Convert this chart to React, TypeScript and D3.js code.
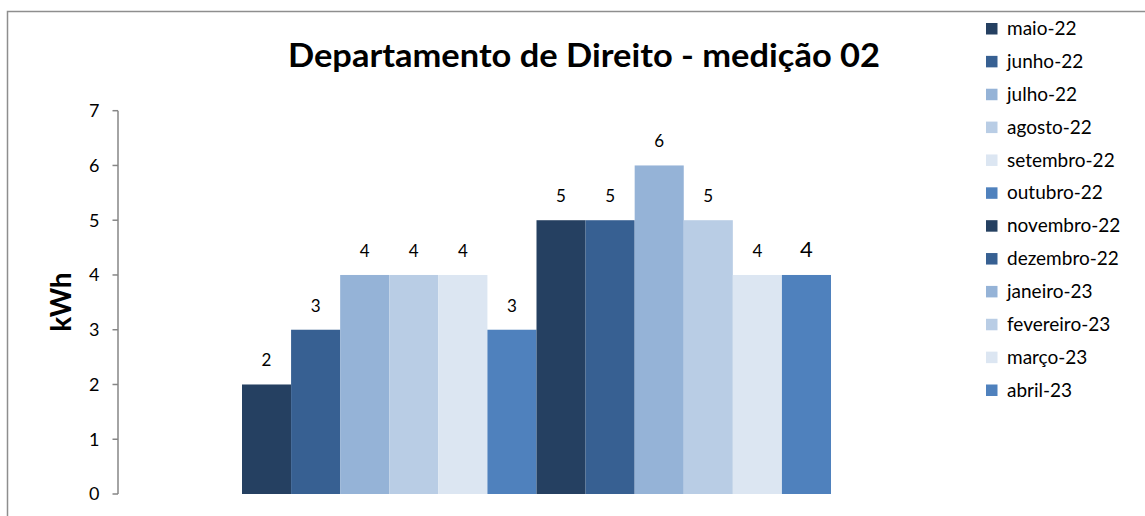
import React from "react";
import * as d3 from "d3";

const months = [
  "maio-22", "junho-22", "julho-22", "agosto-22", "setembro-22", "outubro-22",
  "novembro-22", "dezembro-22", "janeiro-23", "fevereiro-23", "março-23", "abril-23",
];
const values = [2, 3, 4, 4, 4, 3, 5, 5, 6, 5, 4, 4];
const colors = [
  "#254061", "#376092", "#95B3D7", "#B9CDE5", "#DCE6F2", "#4F81BD",
  "#254061", "#376092", "#95B3D7", "#B9CDE5", "#DCE6F2", "#4F81BD",
];
const yTicks = [0, 1, 2, 3, 4, 5, 6, 7];
const title = "Departamento de Direito - medição 02";
const yLabel = "kWh";

const W = 1145;
const H = 516;
const FONT = "Lato, 'Open Sans', sans-serif";

export default function App() {
  const y = d3.scaleLinear().domain([0, 7]).range([494, 110.7]);
  const x = d3.scaleBand().domain(months).range([242, 831]).padding(0);
  const legendY = d3.scalePoint().domain(months).range([28.5, 390]);

  return (
    <svg
      width={W}
      height={H}
      style={{ position: "absolute", left: 0, top: 0, background: "#fff" }}
      fontFamily={FONT}
    >
      {/* chart area border */}
      <path d={`M7.5,${H} V11.5 H${W}`} fill="none" stroke="#8e8e8e" strokeWidth={1.5} />

      <text
        x={288}
        y={66.5}
        fontSize={32}
        fontWeight={700}
        fill="#000"
        textLength={592}
        lengthAdjust="spacingAndGlyphs"
      >
        {title}
      </text>

      {/* y axis */}
      <g>
        <line x1={118} x2={118} y1={y(7)} y2={y(0)} stroke="#868686" strokeWidth={1.5} />
        {yTicks.map((t) => (
          <g key={t} transform={`translate(0,${y(t)})`}>
            <line x1={112.5} x2={118} stroke="#868686" strokeWidth={1.5} />
            <text x={99.5} dy="0.36em" textAnchor="end" fontSize={18} fill="#000">
              {t}
            </text>
          </g>
        ))}
        <text
          transform={`translate(71,302) rotate(-90)`}
          textAnchor="middle"
          fontSize={28}
          fontWeight={700}
          fill="#000"
        >
          {yLabel}
        </text>
      </g>

      {/* bars */}
      {months.map((m, i) => (
        <rect
          key={m}
          x={x(m)}
          y={y(values[i])}
          width={x.bandwidth()}
          height={y(0) - y(values[i])}
          fill={colors[i]}
        />
      ))}
      {months.map((m, i) => (
        <text
          key={m}
          x={(x(m) as number) + x.bandwidth() / 2}
          y={y(values[i]) - 18}
          textAnchor="middle"
          fontSize={i === months.length - 1 ? 22 : 17}
          fill="#000"
        >
          {values[i]}
        </text>
      ))}

      {/* legend */}
      {months.map((m, i) => (
        <g key={m} transform={`translate(0,${legendY(m)})`}>
          <rect x={986} y={-5.5} width={11.5} height={11.5} fill={colors[i]} />
          <text x={1007} dy="0.35em" fontSize={19} fill="#000">
            {m}
          </text>
        </g>
      ))}
    </svg>
  );
}
